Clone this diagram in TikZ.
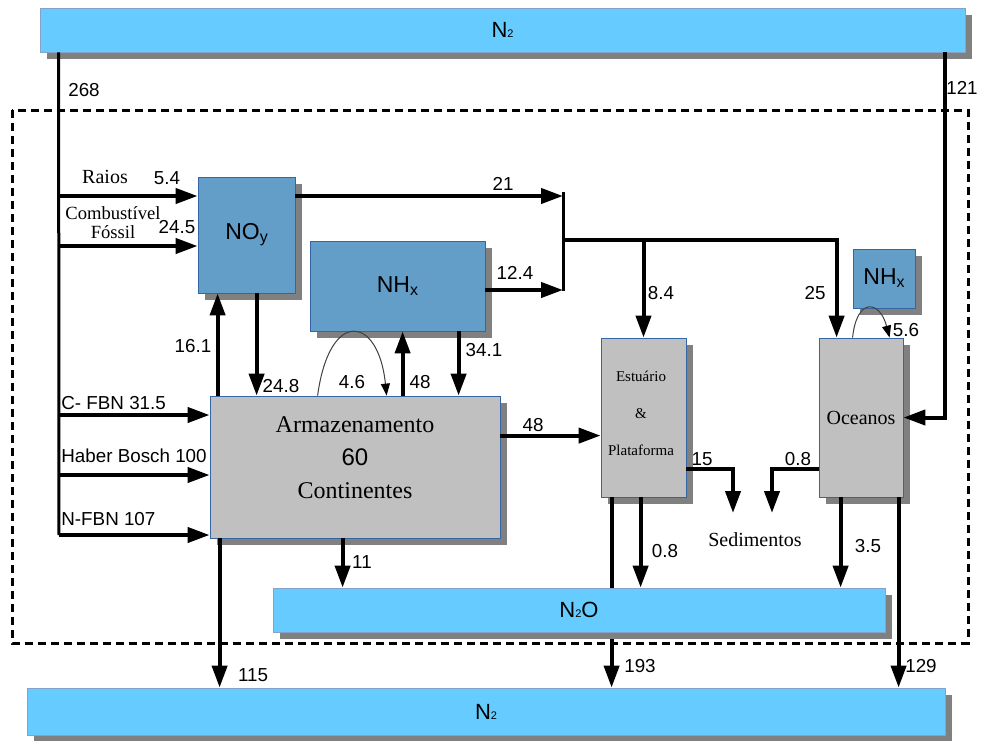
\documentclass[tikz,border=0pt]{standalone}
\usepackage{fontspec}
\setmainfont{Liberation Serif}
\setsansfont{Liberation Sans}
\usepackage{xcolor}
\usepackage{tikz}
\usetikzlibrary{arrows.meta,positioning,shadows,calc}
\definecolor{barblue}{RGB}{102,204,255}
\definecolor{boxblue}{RGB}{99,158,201}
\definecolor{boxgray}{RGB}{192,192,192}
\definecolor{edgeblue}{RGB}{52,101,164}
\definecolor{shadowgray}{RGB}{128,128,128}
\newcommand{\tinysub}[1]{{\fontsize{5.5}{5.5}\selectfont #1}}
\newcommand{\smallsub}[1]{\raisebox{-1.5pt}{\fontsize{8}{8}\selectfont #1}}

\begin{document}
\begin{tikzpicture}[x=0.5pt,y=-0.5pt,
    shadowed/.style={drop shadow={shadow xshift=3.5pt,shadow yshift=-3.5pt,fill=shadowgray,opacity=1}},
    reservoir/.style={rectangle, draw=edgeblue!60, line width=0.4pt, fill=barblue, shadowed, inner sep=0pt, font=\sffamily\fontsize{11}{13}\selectfont},
    pool/.style={rectangle, draw=edgeblue, line width=0.4pt, fill=boxblue, shadowed, inner sep=0pt, font=\sffamily\fontsize{11.5}{14}\selectfont},
    store/.style={rectangle, draw=edgeblue, line width=0.4pt, fill=boxgray, shadowed, inner sep=0pt},
    flux/.style={font=\sffamily\fontsize{9.4}{11}\selectfont, inner sep=0pt},
    tag/.style={font=\fontsize{10}{12}\selectfont, inner sep=0pt},
    arrow/.style={line width=2pt, -{Triangle[length=11pt,width=7.5pt]}},
    flowline/.style={line width=1.5pt},
    recycle/.style={line width=0.5pt, draw=darkgray, -{Triangle[length=6pt,width=4.5pt,color=black]}}
]
\useasboundingbox (0,0) rectangle (981,740);

% system boundary
\draw[line width=1.5pt, dash pattern=on 4pt off 2.5pt] (12,110) rectangle (968,643);

% reservoirs and pools
\node[reservoir, minimum width=462.5pt, minimum height=22pt] (n2top) at (502.5,30) {N\tinysub{2}};
\node[reservoir, minimum width=459pt, minimum height=23.5pt] (n2bot) at (486,711.5) {N\tinysub{2}};
\node[pool, minimum width=48.5pt, minimum height=58pt] (noy) at (246.5,235) {NO\smallsub{y}};
\node[pool, minimum width=87.5pt, minimum height=45pt] (nhx) at (397.5,286) {NH\smallsub{x}};
\node[pool, minimum width=31pt, minimum height=29.5pt] (nhxsea) at (884,278.5) {NH\smallsub{x}};
\node[store, minimum width=145pt, minimum height=71pt] (arm) at (355,467) {};
\node[align=center, font=\fontsize{12}{16.5}\selectfont] (armtxt) at (355,458) {Armazenamento\\{\sffamily 60}\\Continentes};
\node[store, minimum width=42.5pt, minimum height=79.5pt] (est) at (643.5,417.5) {};
\node[align=center, font=\fontsize{7.5}{18.5}\selectfont] (esttxt) at (641,413) {Estuário\\\&\\Plataforma};
\node[store, minimum width=42pt, minimum height=79.5pt, font=\fontsize{10}{12}\selectfont] (ocean) at (861,417.5) {Oceanos};
\node[tag] (sed) at (755,540) {Sedimentos};

% inputs from the atmosphere
\coordinate (tr1) at (59,196);
\coordinate (tr2) at (59,246);
\coordinate (tr3) at (59,415);
\coordinate (tr4) at (59,475);
\coordinate (tr5) at (59,535);
\draw[flowline] ($(n2top.south west)+(19,0)$) -- (tr5);
\draw[arrow] (tr1) -- (tr1 -| noy.west);
\draw[arrow] (tr2) -- (tr2 -| noy.west);
\draw[arrow] (tr3) -- (tr3 -| arm.west);
\draw[arrow] (tr4) -- (tr4 -| arm.west);
\draw[arrow] (tr5) -- (tr5 -| arm.west);
\coordinate (c121) at ($(n2top.south west)+(905,0)$);
\draw[arrow] (c121) |- (ocean.east);

\node[flux] (l268) at (84,90) {268};
\node[flux] (l121) at (962,88) {121};
\node[tag] (lraios) at (105,177) {Raios};
\node[flux] (l54) at (167,178) {5.4};
\node[tag, font=\fontsize{9.3}{11}\selectfont] (lcomb) at (113,213) {Combustível};
\node[tag, font=\fontsize{9.3}{11}\selectfont] (lfos) at (113,232) {Fóssil};
\node[flux] (l245) at (177,227) {24.5};
\node[flux, anchor=west] (lcfbn) at (61,403) {C- FBN 31.5};
\node[flux, anchor=west] (lhb) at (61,456) {Haber Bosch 100};
\node[flux, anchor=west] (lnfbn) at (61,519) {N-FBN 107};

% transport to estuaries and oceans
\coordinate (j21) at (563,196);
\coordinate (j12) at (563,290);
\coordinate (jsplit) at (563,240);
\coordinate (o25) at ($(ocean.north west)+(18,0)$);
\draw[arrow] (j21 -| noy.east) -- (j21);
\draw[arrow] (j12 -| nhx.east) -- (j12);
\draw[flowline] ([yshift=2pt]j21) -- ([yshift=-0.5pt]j12);
\draw[arrow] (jsplit) -| (o25);
\draw[arrow] (jsplit -| est.north) -- (est.north);
\node[flux] (l21) at (503,184) {21};
\node[flux] (l124) at (515,273) {12.4};
\node[flux] (l84) at (661,293) {8.4};
\node[flux] (l25) at (815,293) {25};

% exchange with the land store
\coordinate (u161) at ($(arm.north west)+(8,0)$);
\coordinate (d248) at ($(noy.south west)+(59,0)$);
\coordinate (u48) at ($(arm.north west)+(193,0)$);
\coordinate (d341) at ($(nhx.south west)+(149,0)$);
\draw[arrow] (u161) -- (u161 |- noy.south);
\draw[arrow] (d248) -- (d248 |- arm.north);
\draw[arrow] (u48) -- (u48 |- nhx.south);
\draw[arrow] (d341) -- (d341 |- arm.north);
\draw[recycle] ($(arm.north west)+(108,0)$) .. controls +(12,-88) and +(-8,-80) .. ($(arm.north west)+(177,0)$);
\draw[recycle] ($(ocean.north west)+(34,0)$) .. controls +(4,-40) and +(-10,-38) .. ($(ocean.north west)+(71,0)$);
\node[flux] (l161) at (193,346) {16.1};
\node[flux] (l248) at (281,386) {24.8};
\node[flux] (l46) at (352,382) {4.6};
\node[flux] (l48a) at (420,382) {48};
\node[flux] (l341) at (484,350) {34.1};
\node[flux] (l56) at (906,330) {5.6};

\coordinate (a48) at ($(arm.north east)+(0,40)$);
\draw[arrow] (a48) -- (a48 -| est.west);
\node[flux] (l48b) at (533,425) {48};

% burial in sediments
\coordinate (s15) at ($(est.south east)+(0,-28)$);
\coordinate (s08) at ($(ocean.south west)+(0,-28)$);
\coordinate (sed1) at (733,513);
\coordinate (sed2) at (772,513);
\draw[arrow] (s15) -| (sed1);
\draw[arrow] (s08) -| (sed2);
\node[flux] (l15) at (702,459) {15};
\node[flux] (l08a) at (798,459) {0.8};

% losses to N2 and N2O
\coordinate (d193) at ($(est.south west)+(11,0)$);
\draw[arrow] (d193) -- (d193 |- n2bot.north);
\node[reservoir, minimum width=306pt, minimum height=22pt] (n2o) at (579,610) {N\tinysub{2}O};
\coordinate (d11) at ($(arm.south west)+(133,0)$);
\coordinate (d115) at ($(arm.south west)+(10,0)$);
\coordinate (d08) at ($(est.south west)+(40,0)$);
\coordinate (d35) at ($(ocean.south west)+(22,0)$);
\coordinate (d129) at ($(ocean.south west)+(80,0)$);
\draw[arrow] (d11) -- (d11 |- n2o.north);
\draw[arrow] (d115) -- (d115 |- n2bot.north);
\draw[arrow] (d08) -- (d08 |- n2o.north);
\draw[arrow] (d35) -- (d35 |- n2o.north);
\draw[arrow] (d129) -- (d129 |- n2bot.north);
\node[flux] (l11) at (362,562) {11};
\node[flux] (l115) at (253,675) {115};
\node[flux] (l193) at (640,666) {193};
\node[flux] (l08b) at (665,551) {0.8};
\node[flux] (l35) at (868,546) {3.5};
\node[flux] (l129) at (921,666) {129};

\end{tikzpicture}
\end{document}
